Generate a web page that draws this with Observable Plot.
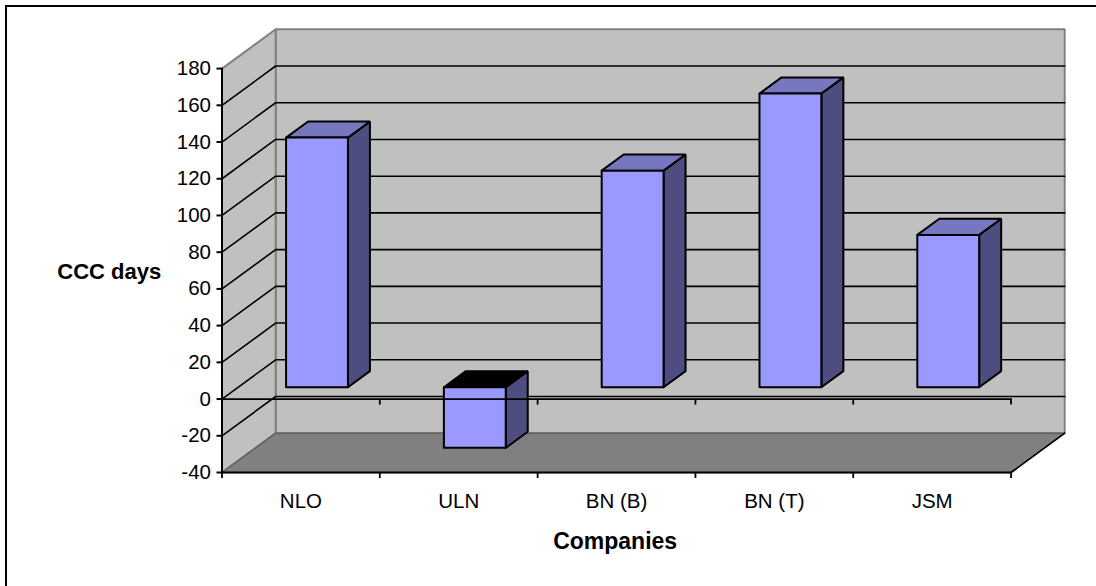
<!DOCTYPE html>
<html>
<head>
<meta charset="utf-8">
<script src="https://cdn.jsdelivr.net/npm/d3@7"></script>
<script src="https://cdn.jsdelivr.net/npm/@observablehq/plot@0.6"></script>
<style>
  html, body { margin: 0; padding: 0; background: #fff; overflow: hidden; }
  #chart { position: relative; width: 1096px; height: 586px; }
  #chart svg { display: block; position: absolute; left: 0; top: 0; background: transparent; }
  #edge { position: absolute; left: 5px; top: 5px; right: 0; bottom: 0; border-left: 2px solid #000; border-top: 2px solid #000; }
</style>
</head>
<body>
<div id="chart"><div id="edge"></div></div>
<script>
// Cash conversion cycle per company
const companies = ["NLO", "ULN", "BN (B)", "BN (T)", "JSM"];
const cccDays = [136, -33, 118, 160, 83];
const yTicks = [-40, -20, 0, 20, 40, 60, 80, 100, 120, 140, 160, 180];

// Oblique projection: one unit of depth moves a point this far in category and value units
const DEPTH_X = 0.34;
const DEPTH_Y = 21.4;
const yMin = -40, yMax = 180;
const BAR_WIDTH = 0.392, BAR_D0 = 0.3, BAR_D1 = 0.71;

const nCat = companies.length;
const at = (c, v, d = 0) => ({x: c + d * DEPTH_X, y: v + d * DEPTH_Y});
const poly = (key, pts) => [...pts, pts[0]].map(([c, v, d]) => ({key, ...at(c, v, d)}));
const seg = (key, a, b) => poly(key, [a, b]).slice(0, 2);

// Box faces for the bars, each closed outline keyed by its bar
const boxes = cccDays.map((value, i) => {
  const c0 = i + 0.5 - BAR_WIDTH / 2, c1 = i + 0.5 + BAR_WIDTH / 2;
  const hi = Math.max(value, 0), lo = Math.min(value, 0);
  return {
    value,
    front: poly(i, [[c0, lo, BAR_D0], [c1, lo, BAR_D0], [c1, hi, BAR_D0], [c0, hi, BAR_D0]]),
    side: poly(i, [[c1, lo, BAR_D0], [c1, lo, BAR_D1], [c1, hi, BAR_D1], [c1, hi, BAR_D0]]),
    top: poly(i, [[c0, hi, BAR_D0], [c1, hi, BAR_D0], [c1, hi, BAR_D1], [c0, hi, BAR_D1]])
  };
});

const lineOf = (rows, o) => Plot.line(rows, {x: "x", y: "y", z: "key", curve: "linear", strokeLinejoin: "miter", ...o});

const backWall = poly("back", [[0, yMin, 1], [nCat, yMin, 1], [nCat, yMax, 1], [0, yMax, 1]]);
const sideWall = poly("side", [[0, yMin, 0], [0, yMin, 1], [0, yMax, 1], [0, yMax, 0]]);
const floor = poly("floor", [[0, yMin, 0], [nCat, yMin, 0], [nCat, yMin, 1], [0, yMin, 1]]);

// Gridlines run along the side wall and across the back wall
const inner = yTicks.filter((t) => t > yMin && t < yMax);
const grid = inner.flatMap((t) => [
  {key: t, ...at(0, t, 0)}, {key: t, ...at(0, t, 1)}, {key: t, ...at(nCat, t, 1)}
]);

const plot = Plot.plot({
  width: 1096,
  height: 586,
  marginLeft: 221.5,
  marginRight: 31.8,
  marginTop: 28.8,
  marginBottom: 114,
  x: {type: "linear", domain: [0, nCat + DEPTH_X]},
  y: {type: "linear", domain: [yMin, yMax + DEPTH_Y]},
  style: {fontFamily: "'Liberation Sans', Arial, sans-serif", color: "#000", background: "transparent"},
  marks: [
    lineOf(backWall, {fill: "#C0C0C0", stroke: "#808080", strokeWidth: 2}),
    lineOf(sideWall, {fill: "#C0C0C0", stroke: "#808080", strokeWidth: 2}),
    lineOf(grid, {stroke: "#000", strokeWidth: 1.6}),
    lineOf(floor, {fill: "#808080", stroke: "#606060", strokeWidth: 1.5}),
    // front edge and right edge of the floor
    lineOf(seg("edge", [0, yMin, 0], [nCat, yMin, 0]), {stroke: "#000", strokeWidth: 2}),
    lineOf(seg("edge", [nCat, yMin, 0], [nCat, yMin, 1]), {stroke: "#000", strokeWidth: 1.6}),
    // y axis and its ticks
    Plot.axisY({
      ticks: yTicks, anchor: "left", tickSize: 5, tickPadding: 6, fontSize: 20.5,
      label: null, tickFormat: (d) => String(d), strokeWidth: 2
    }),
    lineOf(seg("yaxis", [0, yMin, 0], [0, yMax, 0]), {stroke: "#000", strokeWidth: 2}),
    // bars, drawn left to right
    ...boxes.flatMap((b) => [
      lineOf(b.side, {fill: "#4D4D80", stroke: "#000", strokeWidth: 2}),
      lineOf(b.top, {fill: b.value < 0 ? "#000" : "#7777BF", stroke: "#000", strokeWidth: 2}),
      lineOf(b.front, {fill: "#9999FF", stroke: "#000", strokeWidth: 2})
    ]),
    // zero line passes in front of everything
    lineOf(seg("zero", [0, 0, 0], [nCat, 0, 0]), {stroke: "#000", strokeWidth: 1.8}),
    Plot.ruleX(d3.range(1, nCat + 1), {x: (d) => d, y1: 0, y2: -3.3, stroke: "#000", strokeWidth: 1.8}),
    // category ticks along the floor edge, names centred between them
    Plot.axisX({
      ticks: d3.range(0, nCat + 1), anchor: "bottom", tickSize: 6, tickFormat: () => "", label: null, strokeWidth: 1.8
    }),
    Plot.axisX({
      ticks: d3.range(0, nCat).map((i) => i + 0.5), anchor: "bottom", tickSize: 0, tickPadding: 21, fontSize: 20.5,
      tickFormat: (d) => companies[d - 0.5], label: null
    }),
    Plot.text(["CCC days"], {frameAnchor: "left", dx: -112.7, dy: 20.6, text: (d) => d, textAnchor: "middle", lineAnchor: "middle", fontWeight: "bold", fontSize: 22}),
    Plot.text(["Companies"], {frameAnchor: "bottom", dx: -28.2, dy: 69, text: (d) => d, textAnchor: "middle", lineAnchor: "middle", fontWeight: "bold", fontSize: 23})
  ]
});
document.getElementById("chart").appendChild(plot);
</script>
</body>
</html>
